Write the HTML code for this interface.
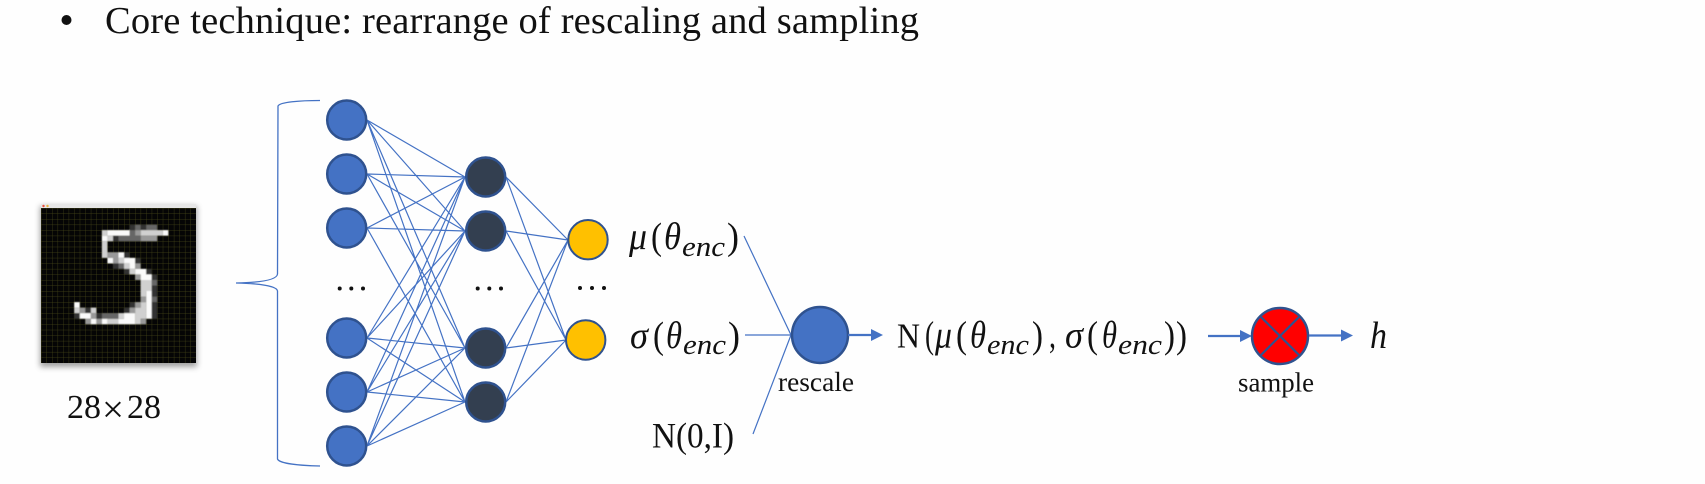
<!DOCTYPE html>
<html>
<head>
<meta charset="utf-8">
<style>
html,body{margin:0;padding:0;width:1705px;height:484px;background:#fefefe;overflow:hidden}
svg{display:block}
text{font-family:"Liberation Serif",serif;fill:#111}
.i{font-style:italic}
.m{font-size:38px}
.s{font-size:29px;font-style:italic}
</style>
</head>
<body>
<svg width="1705" height="484" viewBox="0 0 1705 484" xmlns="http://www.w3.org/2000/svg">
<defs>
<pattern id="g" x="41" y="208" width="5.536" height="5.536" patternUnits="userSpaceOnUse">
<path d="M0 0H5.536M0 0V5.536" stroke="#5f5f1e" stroke-width="0.7" fill="none" opacity="0.75"/>
</pattern>
<filter id="b" x="-20%" y="-20%" width="140%" height="140%"><feGaussianBlur stdDeviation="3"/></filter>
<filter id="p"><feGaussianBlur stdDeviation="0.1"/></filter>
</defs>
<rect width="1705" height="484" fill="#fefefe"/>

<!-- heading -->
<circle cx="66.5" cy="20" r="5" fill="#111"/>
<text x="105" y="33" font-size="38.5" textLength="814" lengthAdjust="spacing">Core technique: rearrange of rescaling and sampling</text>

<!-- image -->
<rect x="40" y="206" width="157" height="161" fill="#555" opacity="0.55" filter="url(#b)"/>
<rect x="41" y="204" width="155" height="4" fill="#e6e6e6"/>
<circle cx="43.5" cy="206" r="1.2" fill="#e8503f"/><circle cx="47.5" cy="206" r="1.2" fill="#e8b03f"/>
<rect x="41" y="208" width="155" height="155" fill="#050505"/>
<rect x="41" y="208" width="155" height="155" fill="url(#g)"/>
<g transform="translate(41 208) scale(5.536)" filter="url(#p)">
<path fill="#333" d="M16 3h1v1h-1zM18 3h1v1h-1zM13 5h1v1h-1zM15 8h1v1h-1zM17 9h1v1h-1zM13 10h1v1h-1zM15 11h1v1h-1zM19 11h1v1h-1zM20 12h1v1h-1zM20 14h1v2h-1zM16 17h1v1h-1zM20 17h1v3h-1zM8 18h1v1h-1zM15 18h1v1h-1zM6 19h1v1h-1zM10 19h1v1h-1z"/>
<path fill="#666" d="M17 3h1v1h-1zM19 3h2v1h-2zM16 4h1v1h-1zM14 5h4v1h-4zM14 10h1v1h-1zM20 13h1v1h-1zM20 16h1v1h-1zM11 19h3v1h-3z"/>
<path fill="#999" d="M17 4h1v1h-1zM18 5h3v1h-3zM12 8h2v1h-2zM13 9h1v1h-1zM17 10h1v1h-1zM17 12h1v1h-1zM18 16h1v1h-1zM17 17h1v1h-1zM7 18h1v1h-1zM16 18h1v1h-1zM9 19h1v1h-1zM8 20h1v1h-1zM10 20h1v1h-1zM18 20h1v1h-1z"/>
<path fill="#d0d0d0" d="M11 4h1v1h-1zM18 4h4v1h-4zM12 5h1v1h-1zM11 6h1v3h-1zM14 9h1v1h-1zM15 10h1v1h-1zM16 11h1v1h-1zM18 13h2v2h-2zM18 15h1v1h-1zM18 17h1v1h-1zM6 18h1v1h-1zM9 18h1v1h-1zM17 18h2v1h-2zM14 19h1v1h-1zM17 19h2v1h-2zM12 20h2v1h-2zM17 20h1v1h-1z"/>
<path fill="#fafafa" d="M12 4h4v1h-4zM22 4h1v1h-1zM11 5h1v1h-1zM14 8h1v1h-1zM12 9h1v1h-1zM15 9h2v1h-2zM16 10h1v1h-1zM17 11h2v1h-2zM18 12h2v1h-2zM19 15h1v5h-1zM6 17h1v1h-1zM7 19h2v1h-2zM15 19h2v1h-2zM9 20h1v1h-1zM11 20h1v1h-1zM14 20h3v1h-3z"/>
</g>
<text x="67" y="418" font-size="34" textLength="34" lengthAdjust="spacingAndGlyphs">28</text>
<text x="102" y="422" font-size="38" textLength="22" lengthAdjust="spacingAndGlyphs">×</text>
<text x="127" y="418" font-size="34" textLength="34" lengthAdjust="spacingAndGlyphs">28</text>

<!-- brace -->
<path d="M320 100.500C300 100.500 280 102 278 106L277.500 274C277 280 260 282.500 236 283C260 283.500 277 286 277.500 291L277.500 459C279 463.500 300 465.500 320 466" fill="none" stroke="#4472C4" stroke-width="1.3"/>

<!-- connections -->
<path fill="none" stroke="#4472C4" stroke-width="1.200" d="
M367 120L465 177M367 120L465 231M367 120L465 348M367 120L465 402
M367 174L465 177M367 174L465 231M367 174L465 348
M367 228L465 177M367 228L465 231M367 228L465 402
M367 338L465 177M367 338L465 231M367 338L465 348M367 338L465 402
M367 392L465 177M367 392L465 231M367 392L465 348M367 392L465 402
M367 446L465 177M367 446L465 231M367 446L465 348M367 446L465 402
M506 177L568 240M506 177L566 340
M506 231L568 240M506 231L566 340
M506 348L568 240M506 348L566 340
M506 402L568 240M506 402L566 340
M744 236L791 335M745 335L791 335M753 434L791 335"/>

<!-- input nodes -->
<g fill="#4472C4" stroke="#2F528F" stroke-width="2.500">
<circle cx="346.700" cy="120" r="19.500"/>
<circle cx="346.700" cy="174" r="19.500"/>
<circle cx="346.700" cy="228" r="19.500"/>
<circle cx="346.700" cy="338" r="19.500"/>
<circle cx="346.700" cy="392" r="19.500"/>
<circle cx="346.700" cy="446" r="19.500"/>
</g>
<!-- hidden nodes -->
<g fill="#333F50" stroke="#2F528F" stroke-width="2.500">
<circle cx="485.700" cy="177" r="19.500"/>
<circle cx="485.700" cy="231" r="19.500"/>
<circle cx="485.700" cy="348" r="19.500"/>
<circle cx="485.700" cy="402" r="19.500"/>
</g>
<!-- output nodes -->
<g fill="#FFC000" stroke="#2F528F" stroke-width="2">
<circle cx="588" cy="239.700" r="19.700"/>
<circle cx="585.700" cy="340" r="19.700"/>
</g>

<!-- ellipses -->
<g fill="#111">
<circle cx="339.700" cy="288.500" r="2"/><circle cx="351.300" cy="288.500" r="2"/><circle cx="363" cy="288.500" r="2"/>
<circle cx="477.700" cy="288.500" r="2"/><circle cx="489.300" cy="288.500" r="2"/><circle cx="501" cy="288.500" r="2"/>
<circle cx="580" cy="288" r="2"/><circle cx="592" cy="288" r="2"/><circle cx="604" cy="288" r="2"/>
</g>

<!-- mu label -->
<text class="m i" x="629" y="249" textLength="18" lengthAdjust="spacingAndGlyphs">μ</text>
<text class="m" x="651" y="249" textLength="11" lengthAdjust="spacingAndGlyphs">(</text>
<text class="m i" x="664" y="249" textLength="17" lengthAdjust="spacingAndGlyphs">θ</text>
<text class="s" x="682" y="256" textLength="43" lengthAdjust="spacingAndGlyphs">enc</text>
<text class="m" x="727" y="249" textLength="12" lengthAdjust="spacingAndGlyphs">)</text>
<!-- sigma label -->
<text class="m i" x="630" y="348" textLength="18" lengthAdjust="spacingAndGlyphs">σ</text>
<text class="m" x="653" y="348" textLength="11" lengthAdjust="spacingAndGlyphs">(</text>
<text class="m i" x="666" y="348" textLength="16" lengthAdjust="spacingAndGlyphs">θ</text>
<text class="s" x="683" y="354" textLength="43" lengthAdjust="spacingAndGlyphs">enc</text>
<text class="m" x="728" y="348" textLength="12" lengthAdjust="spacingAndGlyphs">)</text>

<text x="652" y="447.500" font-size="36" textLength="82" lengthAdjust="spacingAndGlyphs">N(0,I)</text>

<!-- rescale -->
<circle cx="820" cy="335" r="28" fill="#4472C4" stroke="#2F528F" stroke-width="2.500"/>
<text x="778" y="391" font-size="27.400" textLength="76" lengthAdjust="spacingAndGlyphs">rescale</text>
<path d="M848 335H872" stroke="#4472C4" stroke-width="2.200" fill="none"/>
<path d="M871 329L883 335L871 341Z" fill="#4472C4"/>

<!-- distribution label -->
<text font-size="35" x="897" y="347.700" textLength="23" lengthAdjust="spacingAndGlyphs">N</text>
<text class="m" x="925" y="347.700" textLength="9" lengthAdjust="spacingAndGlyphs">(</text>
<text class="m i" x="935" y="347.700" textLength="17" lengthAdjust="spacingAndGlyphs">μ</text>
<text class="m" x="956" y="347.700" textLength="11" lengthAdjust="spacingAndGlyphs">(</text>
<text class="m i" x="970" y="347.700" textLength="16" lengthAdjust="spacingAndGlyphs">θ</text>
<text class="s" x="987" y="354" textLength="42" lengthAdjust="spacingAndGlyphs">enc</text>
<text class="m" x="1032" y="347.700" textLength="11" lengthAdjust="spacingAndGlyphs">)</text>
<text class="m" x="1049" y="347.700" textLength="7" lengthAdjust="spacingAndGlyphs">,</text>
<text class="m i" x="1065" y="347.700" textLength="18" lengthAdjust="spacingAndGlyphs">σ</text>
<text class="m" x="1087" y="347.700" textLength="11" lengthAdjust="spacingAndGlyphs">(</text>
<text class="m i" x="1102" y="347.700" textLength="15" lengthAdjust="spacingAndGlyphs">θ</text>
<text class="s" x="1118" y="354" textLength="44" lengthAdjust="spacingAndGlyphs">enc</text>
<text class="m" x="1164" y="347.700" textLength="11" lengthAdjust="spacingAndGlyphs">)</text>
<text class="m" x="1176" y="347.700" textLength="11" lengthAdjust="spacingAndGlyphs">)</text>

<!-- sample -->
<path d="M1208 336H1242" stroke="#4472C4" stroke-width="2.200" fill="none"/>
<path d="M1240 330L1252 336L1240 342Z" fill="#4472C4"/>
<circle cx="1280" cy="336" r="28" fill="#FF0000" stroke="#2F528F" stroke-width="2.500"/>
<path d="M1260.200 316.200L1299.800 355.800M1299.800 316.200L1260.200 355.800" stroke="#2F528F" stroke-width="2.200" fill="none"/>
<text x="1238" y="391.500" font-size="27" textLength="76" lengthAdjust="spacingAndGlyphs">sample</text>
<path d="M1309 335.500H1343" stroke="#4472C4" stroke-width="2.200" fill="none"/>
<path d="M1341 329.500L1353 335.500L1341 341.500Z" fill="#4472C4"/>
<text class="m i" x="1370" y="348" textLength="17" lengthAdjust="spacingAndGlyphs">h</text>
</svg>
</body>
</html>
